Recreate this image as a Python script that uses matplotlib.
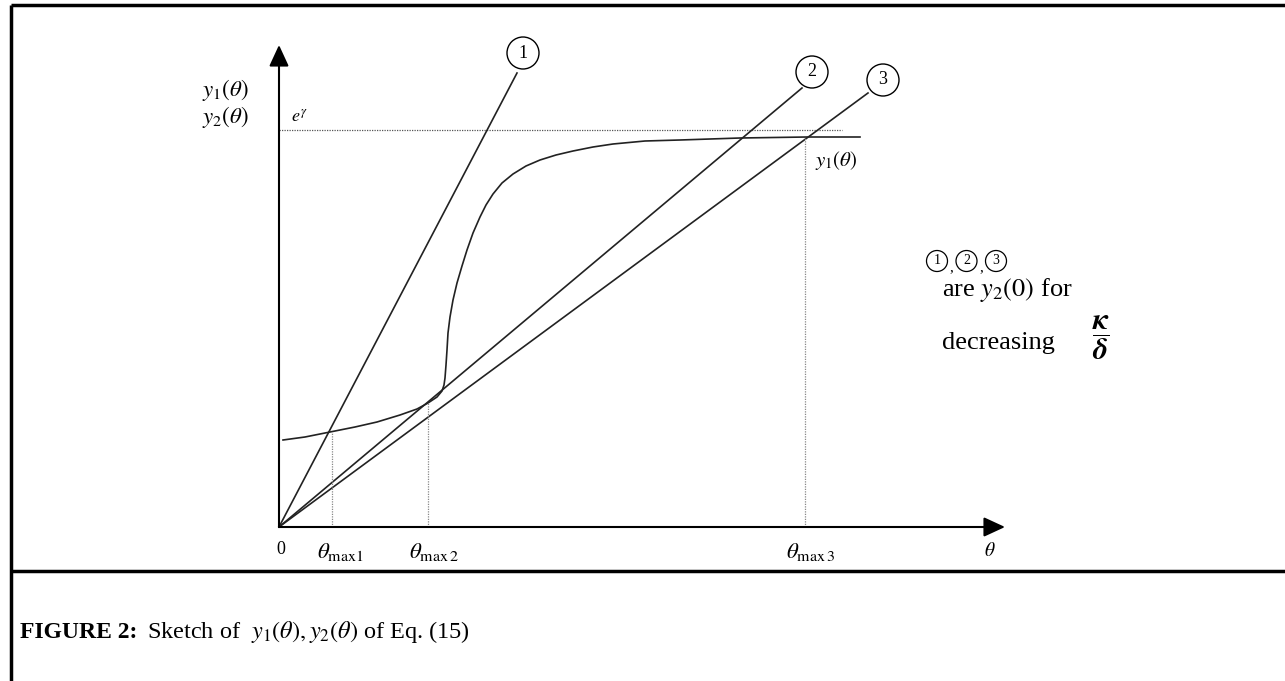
import matplotlib
matplotlib.use('Agg')
import matplotlib.pyplot as plt
from matplotlib.patches import Circle

plt.rcParams['font.family'] = ['Liberation Serif', 'DejaVu Serif']
plt.rcParams['mathtext.fontset'] = 'stix'

# sketch units: 1 unit = 100 px of the original picture, origin at the axes corner
theta_curve = [0.04, 0.26, 0.51, 0.76, 0.98, 1.21, 1.38, 1.49, 1.58, 1.63, 1.65,
               1.66, 1.67, 1.68, 1.69, 1.71, 1.74, 1.78, 1.83, 1.88, 1.94, 2.01,
               2.07, 2.14, 2.23, 2.34, 2.47, 2.61, 2.77, 2.94, 3.14, 3.34, 3.66,
               4.01, 4.61, 5.28, 5.81]
y1_curve = [0.87, 0.90, 0.95, 1.00, 1.05, 1.12, 1.18, 1.24, 1.30, 1.36, 1.42,
            1.49, 1.62, 1.77, 1.94, 2.10, 2.27, 2.44, 2.61, 2.77, 2.94, 3.10,
            3.22, 3.33, 3.44, 3.53, 3.61, 3.67, 3.72, 3.76, 3.80, 3.83, 3.86,
            3.87, 3.89, 3.90, 3.90]

# y2(theta) lines from the origin, one per kappa/delta
line_end_theta = [2.38, 5.23, 5.89]
line_end_y = [4.54, 4.39, 4.34]
line_labels = ['1', '2', '3']
circle_theta = [2.44, 5.33, 6.04]
circle_y = [4.74, 4.55, 4.47]

e_gamma = 3.97
e_gamma_end = 5.63

theta_max = [0.53, 1.49, 5.26]
theta_max_y = [0.95, 1.25, 3.90]
theta_max_labels = [r'$\theta_{\mathrm{max1}}$', r'$\theta_{\mathrm{max\,2}}$',
                    r'$\theta_{\mathrm{max\,3}}$']
theta_max_label_x = [0.61, 1.55, 5.32]

x_axis_end = 7.26
y_axis_end = 4.82

fig = plt.figure(figsize=(12.85, 6.81), dpi=100)
ax = fig.add_axes([0, 0, 1, 1])
ax.set_xlim(-2.79, 10.06)
ax.set_ylim(-1.54, 5.27)
ax.axis('off')

# frame around figure and caption separator
ax.plot([-2.685, -2.685], [-1.6, 5.22], color='k', lw=2.5, solid_capstyle='butt')
ax.plot([-2.685, 10.1], [5.22, 5.22], color='k', lw=2.5, solid_capstyle='butt')
ax.plot([-2.685, 10.1], [-0.44, -0.44], color='k', lw=2.5, solid_capstyle='butt')

# axes with arrows
arrow = dict(arrowstyle='-|>,head_length=0.65,head_width=0.3', mutation_scale=20,
             lw=1.5, color='k', shrinkA=0, shrinkB=0)
ax.annotate('', xy=(x_axis_end, 0), xytext=(0, 0), arrowprops=arrow)
ax.annotate('', xy=(0, y_axis_end), xytext=(0, 0), arrowprops=arrow)

# e^gamma level
ax.plot([0, e_gamma_end], [e_gamma, e_gamma], color='#555555', lw=0.9, ls=(0, (1, 1)))

# y1 curve
ax.plot(theta_curve, y1_curve, color='#222222', lw=1.2, solid_joinstyle='round')

# y2 lines and their numbered circles
for th, yy, lab, cx, cy in zip(line_end_theta, line_end_y, line_labels, circle_theta, circle_y):
    ax.plot([0, th], [0, yy], color='#222222', lw=1.2)
    ax.add_patch(Circle((cx, cy), 0.16, fill=False, ec='k', lw=1.0))
    ax.text(cx, cy, lab, ha='center', va='center', fontsize=13)

# theta_max drop lines
for tm, ty, lab, lx in zip(theta_max, theta_max_y, theta_max_labels, theta_max_label_x):
    ax.plot([tm, tm], [0, ty], color='#888888', lw=0.9, ls=(0, (1, 1)))
    ax.text(lx, -0.25, lab, ha='center', va='center', fontsize=16.5)

ax.text(0.02, -0.22, '0', ha='center', va='center', fontsize=13)
ax.text(7.11, -0.24, r'$\theta$', ha='center', va='center', fontsize=14)
ax.text(0.20, 4.10, r'$e^{\gamma}$', ha='center', va='center', fontsize=13)
ax.text(-0.77, 4.37, r'$y_1(\theta)$', ha='left', va='center', fontsize=16.5)
ax.text(-0.77, 4.10, r'$y_2(\theta)$', ha='left', va='center', fontsize=16.5)
ax.text(5.36, 3.66, r'$y_1(\theta)$', ha='left', va='center', fontsize=15)

# explanation on the right
for i, lab in enumerate(line_labels):
    cx = 6.58 + 0.295 * i
    ax.add_patch(Circle((cx, 2.66), 0.105, fill=False, ec='k', lw=0.9))
    ax.text(cx, 2.66, lab, ha='center', va='center', fontsize=10)
    if i < 2:
        ax.text(cx + 0.145, 2.59, ',', ha='center', va='center', fontsize=11)
ax.text(6.63, 2.37, r'are $y_2(0)$ for', ha='left', va='center', fontsize=19)
ax.text(6.63, 1.84, 'decreasing', ha='left', va='center', fontsize=19)
ax.text(8.22, 1.89, r'$\dfrac{\boldsymbol{\kappa}}{\boldsymbol{\delta}}$',
        ha='center', va='center', fontsize=22)

# caption
head = ax.text(-2.59, -1.05, 'FIGURE 2:', ha='left', va='center', fontsize=17,
               fontweight='bold')
ax.annotate(r'Sketch of  $y_1(\theta), y_2(\theta)$ of Eq. (15)', xy=(1, 0.5),
            xycoords=head, xytext=(7, 0), textcoords='offset points',
            ha='left', va='center', fontsize=17.5)

fig.savefig('out.png', dpi=100)
